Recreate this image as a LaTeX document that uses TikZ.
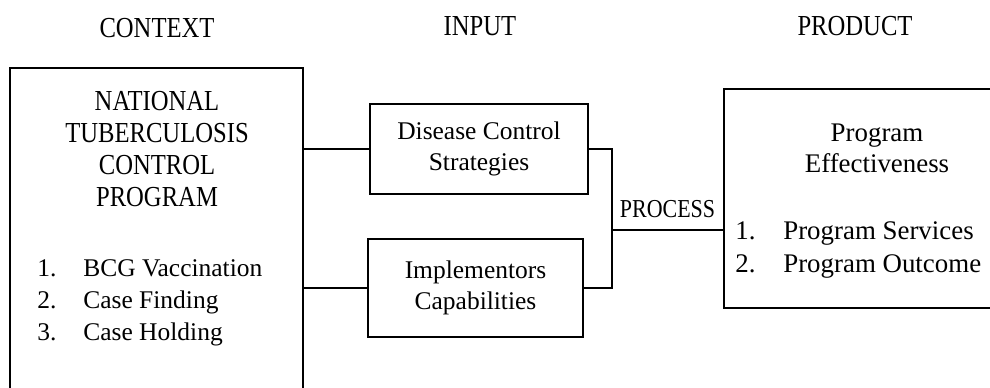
\documentclass[tikz,border=0pt]{standalone}
\usepackage{fontspec}
\setmainfont{Liberation Serif}
\newfontfamily\capsfont{Liberation Serif}[FakeStretch=0.85]
\usepackage{tikz}
\usetikzlibrary{positioning,fit}

\begin{document}
\begin{tikzpicture}[x=0.02cm, y=-0.02cm,
  txt/.style={inner sep=0pt, align=center,
              font=\fontsize{14.5}{17.5}\selectfont},
  caps/.style={inner sep=0pt, align=center,
               font=\capsfont\fontsize{16.5}{18.2}\selectfont},
  box/.style={draw, line width=1pt, inner sep=0pt, align=center,
              font=\fontsize{14.5}{17.5}\selectfont},
  link/.style={line width=1pt}
]
\useasboundingbox (0,0) rectangle (990,388);
\clip (0,0) rectangle (990,388);

\node[caps] (context) at (157,28) {CONTEXT};
\node[caps] (input)   at (480,26) {INPUT};
\node[caps] (product) at (855,26) {PRODUCT};

\node[box, fit={(10,68) (303,430)}] (ctx) {};
\node[box, minimum width=4.36cm, minimum height=1.8cm]  (dcs)  at (479,149) {Disease Control\\Strategies};
\node[box, minimum width=4.3cm,  minimum height=1.96cm] (impl) at (475.5,288) {Implementors\\Capabilities};
\node[box, fit={(724,89) (1030,308)}] (prod) {};

\node[caps] (ctxhead) at (157,149) {NATIONAL\\TUBERCULOSIS\\CONTROL\\PROGRAM};
\node[txt, align=left, anchor=west, font=\fontsize{14.5}{18.2}\selectfont] (ctxlist) at (37,303)
  {\makebox[0.92cm][l]{1.}BCG Vaccination\\
   \makebox[0.92cm][l]{2.}Case Finding\\
   \makebox[0.92cm][l]{3.}Case Holding};

\node[txt, font=\fontsize{15.3}{17.6}\selectfont] (prodhead) at (877,148) {Program\\Effectiveness};
\node[txt, align=left, anchor=west, font=\fontsize{15.3}{18.8}\selectfont] (prodlist) at (735,250)
  {\makebox[0.96cm][l]{1.}Program Services\\
   \makebox[0.96cm][l]{2.}Program Outcome};

\coordinate (join) at (612,230);
\draw[link] (dcs.west)  -- (dcs.west -| ctx.east);
\draw[link] (impl.west) -- (impl.west -| ctx.east);
\draw[link] (dcs.east) -| (join) |- (impl.east);
\draw[link] (join) -- node[above=0.23cm, inner sep=0pt,
  font=\capsfont\fontsize{14.7}{16}\selectfont] (proc) {PROCESS} (join -| prod.west);
\end{tikzpicture}
\end{document}
